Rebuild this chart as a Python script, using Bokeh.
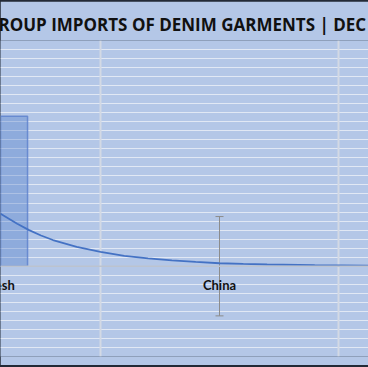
from bokeh.plotting import figure
from bokeh.models import (Range1d, Grid, SingleIntervalTicker, FixedTicker, Span,
                          Whisker, ColumnDataSource, Title)
from bokeh.layouts import column
from bokeh.core.properties import value
from bokeh.embed import file_html
from bokeh.resources import INLINE

# ---- data ----
categories = ["Bangladesh", "China"]
cat_pos = [0, 1]
bar_values = [16.6, 0.0]
err_size = [5.5, 5.5]
trend_x = [0.08, 0.15, 0.20, 0.25, 0.30, 0.40, 0.50, 0.60, 0.70, 0.80, 0.90,
           1.00, 1.10, 1.20, 1.40, 1.63]
trend_y = [5.8, 4.7, 4.0, 3.4, 2.9, 2.15, 1.6, 1.15, 0.87, 0.65, 0.47,
           0.33, 0.25, 0.19, 0.11, 0.06]
title_text = "ROUP IMPORTS OF DENIM GARMENTS | DEC"

BG = "#b4c7e7"

p = figure(width=368, height=364, output_backend="svg", toolbar_location=None,
           x_axis_location=None, y_axis_location=None,
           x_range=Range1d(0.0798, 1.626), y_range=Range1d(-10, 25),
           min_border_left=0, min_border_right=0, min_border_top=39,
           min_border_bottom=9, margin=(1, 0, 2, 0))
p.background_fill_color = BG
p.border_fill_color = BG
p.outline_line_color = None
p.grid.visible = False

t = Title(text=title_text, align="left", offset=-2, standoff=9,
          text_font="Open Sans", text_font_style="bold", text_font_size="17px",
          text_color="#111111")
p.add_layout(t, "above")

hgrid = Grid(dimension=1, ticker=SingleIntervalTicker(interval=1),
             grid_line_color="#e1e8f4", grid_line_width=1.2)
vgrid = Grid(dimension=0, ticker=FixedTicker(ticks=[0.5, 1.5]),
             grid_line_color="#d3d9e4", grid_line_width=2)
p.add_layout(hgrid)
p.add_layout(vgrid)

# bars (non-zero values only)
bx = [c for c, v in zip(cat_pos, bar_values) if v > 0]
bv = [v for v in bar_values if v > 0]
p.vbar(x=bx, top=bv, bottom=0, width=0.387, fill_color="#4472c4", fill_alpha=0.33,
       line_color="#5b80cc", line_alpha=0.8, line_width=1.5)

# axis line at zero
p.add_layout(Span(location=0, dimension="width", line_color="#bcc3cf", line_width=1.5))

# error bars
src = ColumnDataSource(dict(x=cat_pos,
                            upper=[v + e for v, e in zip(bar_values, err_size)],
                            lower=[v - e for v, e in zip(bar_values, err_size)]))
w = Whisker(source=src, base="x", upper="upper", lower="lower",
            line_color="#8c8c8c", line_width=1)
w.upper_head.size = 8
w.lower_head.size = 8
w.upper_head.line_color = "#8c8c8c"
w.lower_head.line_color = "#8c8c8c"
p.add_layout(w)

# trend line
p.line(trend_x, trend_y, line_color="#4472c4", line_width=1.8)

# category labels
p.text(x=cat_pos, y=[0, 0], text=categories, text_align="center",
       text_baseline="middle", y_offset=19, text_font=value("Lato"),
       text_font_style="bold", text_font_size="13px", text_color="#111111")

root = column(p, styles={"background-color": "#232a36"})
open("out.html", "w").write(file_html(root, INLINE))
